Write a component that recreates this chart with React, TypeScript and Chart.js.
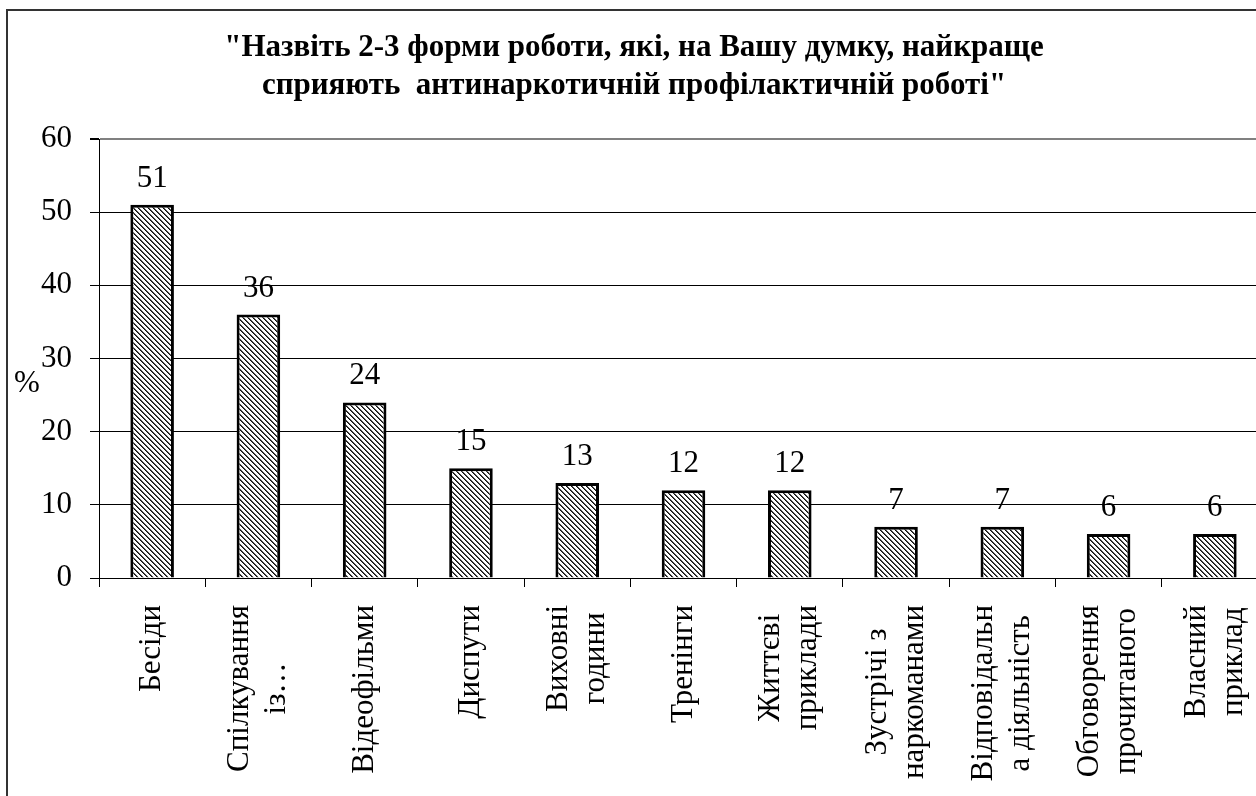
import React, { useEffect, useRef } from "react";
import { Chart, registerables } from "chart.js";

Chart.register(...registerables);

const titleLines = [
  '"Назвіть 2-3 форми роботи, які, на Вашу думку, найкраще',
  'сприяють  антинаркотичній профілактичній роботі"',
];

const categoryLines: string[][] = [
  ["Бесіди"],
  ["Спілкування", "із…"],
  ["Відеофільми"],
  ["Диспути"],
  ["Виховні", "години"],
  ["Тренінги"],
  ["Життєві", "приклади"],
  ["Зустрічі з", "наркоманами"],
  ["Відповідальн", "а діяльність"],
  ["Обговорення", "прочитаного"],
  ["Власний", "приклад"],
];

const values = [51, 36, 24, 15, 13, 12, 12, 7, 7, 6, 6];

const yTicks = [0, 10, 20, 30, 40, 50, 60];
const yAxisLabel = "%";

const W = 1290;
const H = 840;
const SERIF = '"Liberation Serif", "Times New Roman", serif';
const FONT_SIZE = 31;

function makeHatch(ctx: CanvasRenderingContext2D) {
  const P = 5;
  const c = document.createElement("canvas");
  c.width = P;
  c.height = P;
  const g = c.getContext("2d")!;
  g.fillStyle = "#ffffff";
  g.fillRect(0, 0, P, P);
  for (let y = 0; y < P; y++)
    for (let x = 0; x < P; x++) {
      const d = (((x - y) % P) + P) % P;
      if (d === 0) {
        g.fillStyle = "#111111";
        g.fillRect(x, y, 1, 1);
      } else if (d === 1) {
        g.fillStyle = "#555555";
        g.fillRect(x, y, 1, 1);
      }
    }
  return ctx.createPattern(c, "repeat")!;
}

const decorPlugin = {
  id: "decor",
  beforeDraw(chart: any) {
    const ctx = chart.ctx as CanvasRenderingContext2D;
    ctx.save();
    ctx.fillStyle = "#fff";
    ctx.fillRect(0, 0, W, H);
    ctx.restore();
  },
  afterDatasetsDraw(chart: any) {
    const ctx = chart.ctx as CanvasRenderingContext2D;
    const meta = chart.getDatasetMeta(0);
    ctx.save();
    ctx.font = `${FONT_SIZE}px ${SERIF}`;
    ctx.fillStyle = "#000";
    ctx.textAlign = "center";
    ctx.textBaseline = "alphabetic";
    meta.data.forEach((bar: any, i: number) => {
      ctx.fillText(String(values[i]), bar.x, bar.y - 18);
    });
    ctx.restore();
  },
  afterDraw(chart: any) {
    const ctx = chart.ctx as CanvasRenderingContext2D;
    const xs = chart.scales.x;
    const ys = chart.scales.y;
    ctx.save();
    // frame
    ctx.strokeStyle = "#333";
    ctx.lineWidth = 2;
    ctx.strokeRect(7, 10, W + 20, H + 20);
    // title
    ctx.fillStyle = "#000";
    ctx.font = `bold 31px ${SERIF}`;
    ctx.textAlign = "center";
    ctx.textBaseline = "alphabetic";
    ctx.fillText(titleLines[0], 634, 56);
    ctx.fillText(titleLines[1], 634, 94);
    // y axis label
    ctx.font = `${FONT_SIZE}px ${SERIF}`;
    ctx.textAlign = "center";
    ctx.textBaseline = "middle";
    ctx.fillText(yAxisLabel, 27, ys.getPixelForValue(30) + 25);
    // x labels, rotated, centered block
    const lineH = 37;
    const top = xs.top + 27;
    categoryLines.forEach((lines, i) => {
      const cx = xs.getPixelForValue(i);
      const maxW = Math.max(...lines.map((l) => ctx.measureText(l).width));
      ctx.save();
      ctx.translate(cx, top + maxW / 2);
      ctx.rotate(-Math.PI / 2);
      ctx.textAlign = "center";
      ctx.textBaseline = "middle";
      lines.forEach((l, k) => {
        ctx.fillText(l, 0, (k - (lines.length - 1) / 2) * lineH);
      });
      ctx.restore();
    });
    ctx.restore();
  },
};

export default function App() {
  const ref = useRef<HTMLCanvasElement | null>(null);
  useEffect(() => {
    const canvas = ref.current!;
    const ctx = canvas.getContext("2d")!;
    const hatch = makeHatch(ctx);
    const chart = new Chart(canvas, {
      type: "bar",
      data: {
        labels: categoryLines.map((l) => l.join(" ")),
        datasets: [
          {
            data: values,
            backgroundColor: hatch,
            borderColor: "#000",
            borderWidth: 3,
            categoryPercentage: 1,
            barPercentage: 0.41,
          },
        ],
      },
      options: {
        responsive: false,
        animation: false,
        devicePixelRatio: 1,
        layout: { padding: { left: 0, top: 139, right: 22, bottom: 0 } },
        plugins: {
          legend: { display: false },
          title: { display: false },
          tooltip: { enabled: false },
        },
        scales: {
          x: {
            type: "category",
            offset: true,
            ticks: { display: false },
            grid: {
              display: true,
              offset: true,
              drawOnChartArea: false,
              drawTicks: true,
              tickLength: 9,
              color: "#000",
              tickColor: "#000",
              lineWidth: 1,
            },
            border: { display: true, color: "#000", width: 1 },
            afterFit: (s: any) => {
              s.height = H - 578;
            },
          },
          y: {
            min: 0,
            max: 60,
            afterBuildTicks: (s: any) => {
              s.ticks = yTicks.map((v) => ({ value: v }));
            },
            ticks: {
              stepSize: 10,
              padding: 18,
              color: "#000",
              font: { family: SERIF, size: FONT_SIZE },
            },
            grid: {
              color: (c: any) => (c.tick && c.tick.value === 60 ? "#808080" : "#000"),
              lineWidth: (c: any) => (c.tick && c.tick.value === 60 ? 2 : 1),
              tickColor: "#000",
              tickLength: 9,
              drawTicks: true,
            },
            border: { display: true, color: "#000", width: 1 },
            afterFit: (s: any) => {
              s.width = 99;
            },
          },
        },
      },
      plugins: [decorPlugin],
    });
    return () => chart.destroy();
  }, []);
  return (
    <div
      style={{
        position: "fixed",
        left: 0,
        top: 0,
        width: 1256,
        height: 796,
        overflow: "hidden",
        background: "#fff",
      }}
    >
      <canvas ref={ref} width={W} height={H} style={{ display: "block", width: W, height: H }} />
    </div>
  );
}
